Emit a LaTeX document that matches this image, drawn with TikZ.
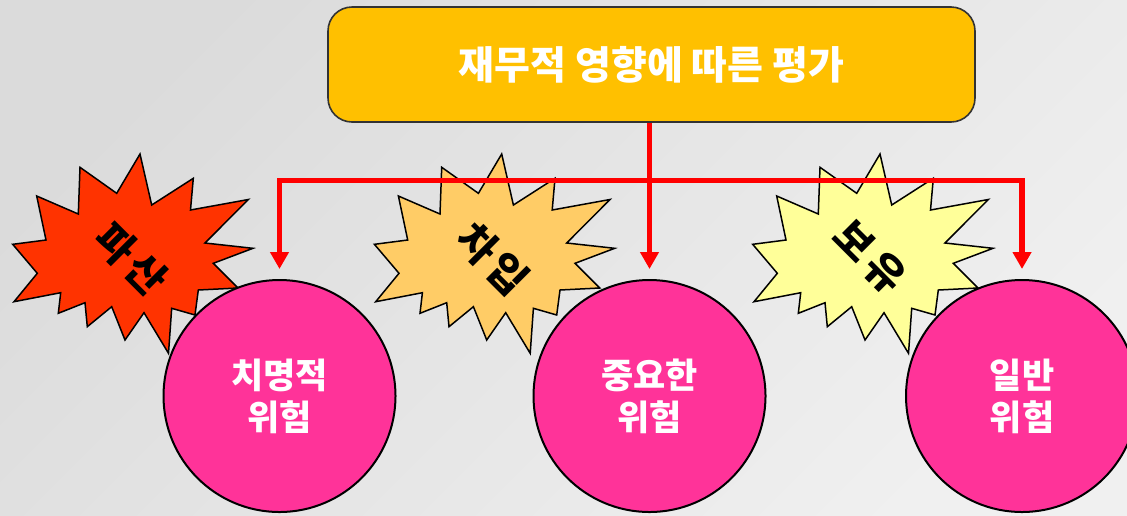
\documentclass[tikz,border=0pt]{standalone}
\usepackage{fontspec}
\newfontfamily\kr{Noto Sans CJK KR}
\usetikzlibrary{arrows.meta,calc}
\definecolor{boxgold}{HTML}{FFC000}
\definecolor{riskpink}{HTML}{FF3399}
\definecolor{burstred}{HTML}{FF3300}
\definecolor{burstorange}{HTML}{FFCC66}
\definecolor{burstyellow}{HTML}{FFFF99}
\def\seal[#1](#2){\draw[#1,shift={(#2,0)}] (140,154) -- (151.7,205) -- (193.3,178.3) -- (190.5,210) -- (248.3,199.5) -- (205,243) -- (253,248.3) -- (213.3,263.3) -- (238,288) -- (198.3,290) -- (195,315) -- (171.7,308.3) -- (168.5,353.3) -- (144,312.7) -- (125,340) -- (111.7,306.7) -- (87.3,326.7) -- (85,302.7) -- (58.3,313.3) -- (60.7,292.7) -- (14,301.7) -- (37.3,273.3) -- (12.7,244.3) -- (46,240) -- (36.7,196) -- (78.3,214) -- (80,167.3) -- (116.7,193.3) -- cycle;}

\tikzset{
  risk/.style={circle, draw=black, line width=1pt, fill=riskpink, minimum size=116pt, inner sep=0pt, align=center, text=white, font=\kr\bfseries\fontsize{17.5}{21}\selectfont},
  headbox/.style={rectangle, rounded corners=12pt, draw=black!80, line width=0.8pt, fill=boxgold, minimum width=323.5pt, minimum height=57.5pt, text=white, font=\kr\bfseries\fontsize{19.5}{24}\selectfont},
  bursttext/.style={rotate=-45, inner sep=0pt, font=\kr\bfseries\fontsize{20.5}{21}\selectfont},
  riskarrow/.style={draw=red, line width=2.7pt, -{Triangle[width=9pt,length=8.5pt]}, shorten >=5pt}
}

\begin{document}
\begin{tikzpicture}[x=0.5pt,y=-0.5pt]
		%%%%% START %%%%%
		\useasboundingbox (0,0) rectangle (1127,515);
		\shade[top color=black!14, bottom color=black!6, shading angle=45] (0,0) rectangle (1127,515);
		
		% bursts
		\seal[fill=burstred, draw=black, line width=0.75pt](0);
		\seal[fill=burstorange, draw=black, line width=0.75pt](361.7);
		\seal[fill=burstyellow, draw=black, line width=0.75pt](740);
		\node[bursttext] (bankrupt) at (131,259) {파\hspace{3pt}산};
		\node[bursttext] (borrow) at (492.7,259) {차\hspace{3pt}입};
		\node[bursttext] (retain) at (870,257) {보\hspace{3pt}유};
		
		% risks
		\node[risk] (fatal) at (279.5,396) {치명적\\위험};
		\node[risk] (major) at (649.5,396) {중요한\\위험};
		\node[risk] (normal) at (1022,396) {일반\\위험};
		
		\node[headbox] (eval) at (651.5,64.5) {재무적 영향에 따른 평가};
		
		\coordinate (bus) at (649.5,180.5);
		\draw[riskarrow] (eval.south -| major) -- (major.north);
		\draw[riskarrow] (bus) -| (fatal.north);
		\draw[riskarrow] (bus) -| (normal.north);
		
		%%%%% END %%%%%
\end{tikzpicture}
\end{document}
